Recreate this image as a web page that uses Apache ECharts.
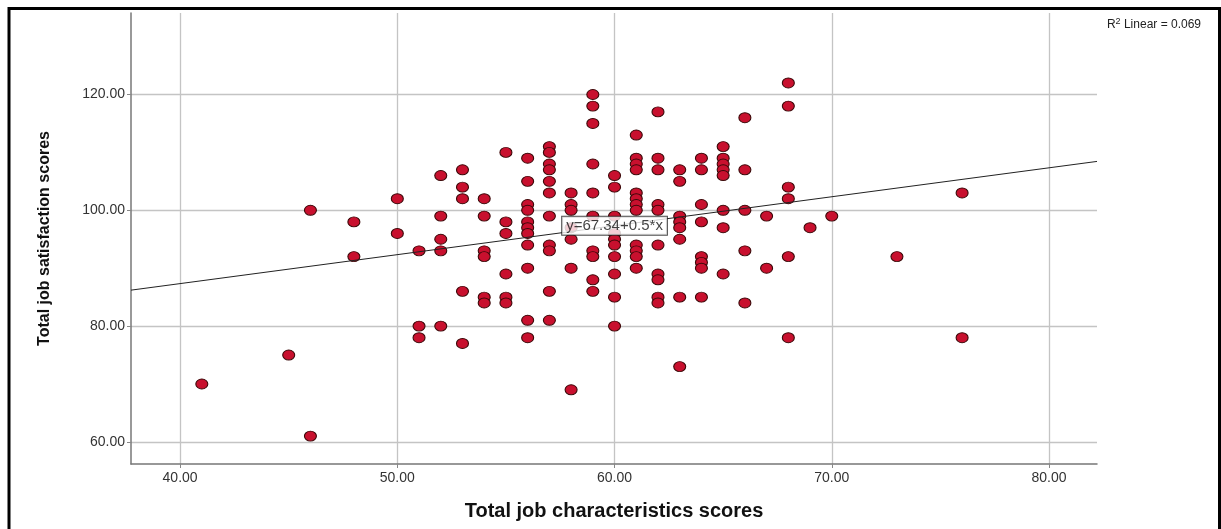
<!DOCTYPE html>
<html>
<head>
<meta charset="utf-8">
<style>
html,body{margin:0;padding:0;background:#fff;}
#chart{width:1221px;height:529px;}
</style>
<script src="https://cdn.jsdelivr.net/npm/echarts@6/dist/echarts.min.js"></script>
</head>
<body>
<div id="chart"></div>
<script>
// Data: x = Total job characteristics score, y = Total job satisfaction score
const xScores = [
  41,
  45,
  46,46,
  48,48,
  50,50,
  51,51,51,
  52,52,52,52,52,
  53,53,53,53,53,
  54,54,54,54,54,54,
  55,55,55,55,55,55,
  56,56,56,56,56,56,56,56,56,56,56,
  57,57,57,57,57,57,57,57,57,57,57,
  58,58,58,58,58,58,58,
  59,59,59,59,59,59,59,59,59,59,
  60,60,60,60,60,60,60,60,60,60,
  61,61,61,61,61,61,61,61,61,61,61,61,
  62,62,62,62,62,62,62,62,62,62,
  63,63,63,63,63,63,63,63,
  64,64,64,64,64,64,64,64,
  65,65,65,65,65,65,65,65,
  66,66,66,66,66,
  67,67,
  68,68,68,68,68,68,
  69,
  70,
  73,
  76,76
];
const yScores = [
  70,
  75,
  100,61,
  98,92,
  102,96,
  93,80,78,
  106,99,95,93,80,
  107,104,102,86,77,
  102,99,93,92,85,84,
  110,98,96,89,85,84,
  109,105,101,100,98,97,96,94,90,81,78,
  111,110,108,107,105,103,99,94,93,86,81,
  103,101,100,97,95,90,69,
  120,118,115,108,103,99,93,92,88,86,
  106,104,99,96,95,94,92,89,85,80,
  113,109,108,107,103,102,101,100,94,93,92,90,
  117,109,107,101,100,94,89,88,85,84,
  107,105,99,98,97,95,85,73,
  109,107,101,98,92,91,90,85,
  111,109,108,107,106,100,97,89,
  116,107,100,93,84,
  99,90,
  122,118,104,102,92,78,
  97,
  99,
  92,
  103,78
];
const xTicks = [40, 50, 60, 70, 80];
const yTicks = [60, 80, 100, 120];
const fitIntercept = 67.34;
const fitSlope = 0.5;
const fitLabel = 'y=67.34+0.5*x';
const r2Text = '0.069';
const xTitle = 'Total job characteristics scores';
const yTitle = 'Total job satisfaction scores';

const xMin = 37.74, xMax = 82.21, yMin = 56.18, yMax = 134.08;
const points = xScores.map((x, i) => [x, yScores[i]]);
const fitLine = [[xMin, fitIntercept + fitSlope * xMin], [xMax, fitIntercept + fitSlope * xMax]];
const labelX = 60;

const FONT = "'Liberation Sans', Arial, sans-serif";
const chart = echarts.init(document.getElementById('chart'), null, {renderer: 'canvas'});
chart.setOption({
  animation: false,
  backgroundColor: '#fff',
  title: {
    text: '{a|R}{s|2}{a| Linear = ' + r2Text + '}',
    right: 15, top: 12,
    textStyle: {
      fontWeight: 'normal',
      rich: {
        a: {fontFamily: FONT, fontSize: 12, fontWeight: 'normal', color: '#222'},
        s: {fontFamily: FONT, fontSize: 9, fontWeight: 'normal', color: '#222', verticalAlign: 'top', padding: [0,0,6,0]}
      }
    }
  },
  graphic: [{
    type: 'rect', z: 100, silent: true,
    shape: {x: 9, y: 8.5, width: 1210.5, height: 560},
    style: {fill: 'none', stroke: '#000', lineWidth: 3}
  }],
  grid: {left: 131, right: 124, top: 13, bottom: 65, containLabel: false},
  xAxis: {
    type: 'value', min: xMin, max: xMax,
    name: xTitle, nameLocation: 'middle', nameGap: 37,
    nameTextStyle: {fontFamily: FONT, fontSize: 20, fontWeight: 'bold', color: '#111'},
    axisLine: {show: true, onZero: false, lineStyle: {color: '#777', width: 1.5}},
    axisTick: {show: true, customValues: xTicks, length: 4, lineStyle: {color: '#888'}},
    axisLabel: {customValues: xTicks, formatter: v => v.toFixed(2), fontFamily: FONT, fontSize: 14, color: '#333', margin: 7},
    splitLine: {show: true, lineStyle: {color: '#c4c4c4', width: 1.3}}
  },
  yAxis: {
    type: 'value', min: yMin, max: yMax,
    name: yTitle, nameLocation: 'middle', nameGap: 78, nameRotate: 90,
    nameTextStyle: {fontFamily: FONT, fontSize: 16, fontWeight: 'bold', color: '#111'},
    axisLine: {show: true, onZero: false, lineStyle: {color: '#777', width: 1.5}},
    axisTick: {show: true, customValues: yTicks, length: 4, lineStyle: {color: '#888'}},
    axisLabel: {customValues: yTicks, formatter: v => v.toFixed(2), fontFamily: FONT, fontSize: 14, color: '#333', margin: 6},
    splitLine: {show: true, lineStyle: {color: '#c4c4c4', width: 1.3}}
  },
  series: [
    {
      type: 'scatter', data: points, symbol: 'circle', symbolSize: [12, 10],
      itemStyle: {color: '#c8102e', borderColor: '#3a0808', borderWidth: 1, opacity: 1},
      z: 3
    },
    {
      type: 'line', data: fitLine, symbol: 'none', silent: true,
      lineStyle: {color: '#222', width: 1}, z: 4
    },
    {
      type: 'scatter', data: [[labelX, fitIntercept + fitSlope * labelX]], symbolSize: 1, silent: true,
      itemStyle: {color: 'rgba(0,0,0,0)'},
      label: {
        show: true, position: 'inside', formatter: fitLabel,
        fontFamily: FONT, fontSize: 15, color: '#111',
        backgroundColor: '#fff', borderColor: '#222', borderWidth: 1, padding: [2, 4, 1, 4]
      },
      z: 5
    }
  ]
});
</script>
</body>
</html>
